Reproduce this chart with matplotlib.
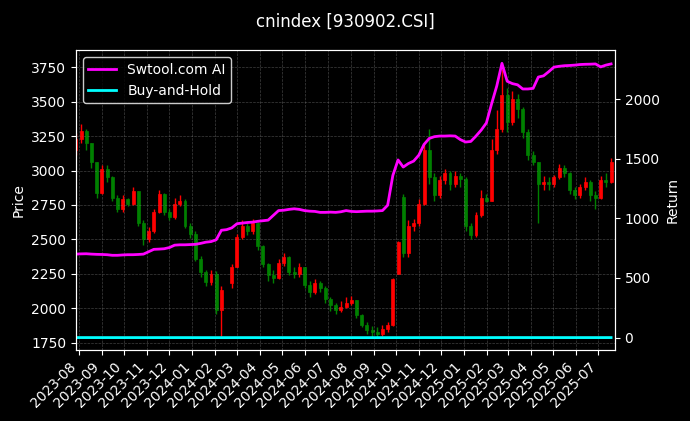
import numpy as np
import pandas as pd
import matplotlib
matplotlib.use("Agg")
import matplotlib.pyplot as plt
import matplotlib.dates as mdates

plt.style.use("dark_background")

# weekly bars (NaN = market closed)
dates = pd.date_range("2023-07-28", periods=104, freq="7D")
nan = np.nan
opens = [3150, 3230, 3290, 3200, 3060, 2840, 3010, 2950, 2800, 2720,
         2790, 2760, 2850, 2620, 2500, 2560, 2700, 2830, 2700, 2660,
         2760, 2780, 2600, 2540, 2360, 2260, 2190, 2250, 1990, nan,
         2180, 2300, 2520, 2600, 2560, 2620, 2450, 2320, 2240, 2220,
         2330, 2370, 2260, 2250, 2300, 2170, 2120, 2180, 2150, 2070,
         2020, 1990, 2010, 2040, 2060, 1950, 1880, 1840, 1830, 1810,
         1850, 1880, 2250, 2810, 2400, 2600, 2620, 2760, 3150, 2950,
         2820, 2930, 2980, 2900, 2960, 2940, 2600, 2530, 2680, 2800,
         2780, 3150, 3300, 3550, 3350, 3520, 3450, 3280, 3110, 3060,
         2900, 2920, 2900, 2950, 3020, 2980, 2860, 2820, 2880, 2920,
         2820, 2800, 2930, 2920]
highs = [3270, 3340, 3300, 3200, 3060, 3040, 3040, 2960, 2820, 2820,
         2800, 2880, 2850, 2640, 2590, 2720, 2860, 2840, 2720, 2800,
         2820, 2790, 2620, 2560, 2380, 2280, 2280, 2270, 2160, nan,
         2320, 2540, 2640, 2620, 2650, 2630, 2460, 2330, 2280, 2360,
         2400, 2380, 2300, 2330, 2300, 2200, 2210, 2200, 2160, 2080,
         2040, 2050, 2080, 2090, 2060, 1960, 1900, 1870, 1860, 1880,
         1900, 2220, 2490, 2830, 2640, 2650, 2790, 3200, 3300, 2980,
         2960, 3010, 3000, 3000, 2980, 2950, 2620, 2700, 2860, 2830,
         3230, 3440, 3740, 3600, 3580, 3560, 3460, 3300, 3140, 3060,
         2960, 2950, 2970, 3050, 3040, 2990, 2880, 2900, 2950, 2930,
         2850, 2960, 2980, 3090]
lows = [3110, 3200, 3150, 3020, 2800, 2830, 2920, 2780, 2700, 2700,
        2740, 2750, 2600, 2460, 2480, 2550, 2690, 2680, 2640, 2650,
        2740, 2580, 2510, 2340, 2230, 2160, 2170, 1960, 1800, nan,
        2150, 2300, 2500, 2530, 2540, 2420, 2300, 2200, 2180, 2210,
        2310, 2240, 2220, 2230, 2150, 2080, 2100, 2120, 2040, 1980,
        1960, 1970, 2000, 2020, 1930, 1860, 1810, 1790, 1790, 1800,
        1830, 1870, 2250, 2370, 2370, 2560, 2600, 2750, 2900, 2780,
        2800, 2900, 2860, 2880, 2880, 2560, 2500, 2520, 2660, 2770,
        2780, 3120, 3280, 3280, 3330, 3380, 3240, 3080, 3040, 2620,
        2860, 2860, 2880, 2940, 2950, 2830, 2790, 2800, 2860, 2780,
        2720, 2790, 2880, 2910]
closes = [3230, 3290, 3200, 3060, 2840, 3010, 2950, 2800, 2720, 2790,
          2760, 2850, 2620, 2500, 2560, 2700, 2830, 2700, 2660, 2760,
          2780, 2600, 2540, 2360, 2260, 2190, 2250, 1990, 2130, nan,
          2300, 2520, 2600, 2560, 2620, 2450, 2320, 2240, 2220, 2330,
          2370, 2260, 2250, 2300, 2170, 2120, 2180, 2150, 2070, 2020,
          1990, 2010, 2040, 2060, 1950, 1880, 1840, 1830, 1810, 1850,
          1880, 2210, 2480, 2400, 2600, 2620, 2760, 3150, 2950, 2820,
          2930, 2980, 2900, 2960, 2940, 2600, 2530, 2680, 2800, 2780,
          3150, 3300, 3550, 3350, 3520, 3450, 3280, 3110, 3060, 2900,
          2920, 2900, 2950, 3020, 2980, 2860, 2820, 2880, 2920, 2820,
          2800, 2930, 2920, 3060]
ai_return = [700, 702, 703, 700, 698, 697, 695, 690, 690, 693,
             695, 695, 697, 700, 720, 740, 742, 745, 755, 775,
             778, 778, 780, 782, 790, 800, 805, 820, 900, 905,
             920, 955, 960, 965, 968, 975, 980, 985, 1025, 1065,
             1068, 1075, 1080, 1075, 1065, 1060, 1058, 1050, 1050, 1052,
             1050, 1055, 1065, 1058, 1056, 1058, 1060, 1060, 1062, 1065,
             1110, 1360, 1490, 1430, 1460, 1480, 1530, 1620, 1670, 1685,
             1690, 1690, 1692, 1690, 1660, 1640, 1645, 1690, 1740, 1800,
             1960, 2110, 2300, 2150, 2130, 2120, 2085, 2085, 2090, 2185,
             2195, 2230, 2268, 2275, 2280, 2282, 2285, 2290, 2292, 2293,
             2295, 2270, 2285, 2295]

df = pd.DataFrame({"open": opens, "high": highs, "low": lows, "close": closes}, index=dates)
bh_return = df["close"].ffill() / df["close"].iloc[0] - 1

fig = plt.figure(figsize=(6.9, 4.21), dpi=100)
ax = fig.add_axes([0.110, 0.169, 0.781, 0.712])

up = df["close"] >= df["open"]
colors = np.where(up, "#ff0000", "#008000")
ax.vlines(df.index, df["low"], df["high"], colors=colors, linewidth=1)
ax.bar(df.index, (df["close"] - df["open"]).abs(), bottom=df[["open", "close"]].min(axis=1),
       width=4, color=colors, edgecolor=colors, linewidth=0.5)

ax.set_ylabel("Price")
ax.set_ylim(1697, 3876)
ax.set_xlim(pd.Timestamp("2023-07-28"), pd.Timestamp("2025-07-23"))
ax.xaxis.set_major_locator(mdates.MonthLocator())
ax.xaxis.set_major_formatter(mdates.DateFormatter("%Y-%m"))
plt.setp(ax.get_xticklabels(), rotation=45, ha="right")
ax.grid(True, linestyle="--", linewidth=0.5, color="gray", alpha=0.5)

ax2 = ax.twinx()
ax2.plot(df.index, ai_return, color="#ff00ff", linewidth=2, label="Swtool.com AI")
ax2.plot(df.index, bh_return, color="#00ffff", linewidth=2, label="Buy-and-Hold")
ax2.set_ylim(-103, 2411)
ax2.set_ylabel("Return")
ax2.legend(loc="upper left", facecolor="black", edgecolor="white")

fig.suptitle("cnindex [930902.CSI]", y=0.97)
fig.savefig("out.png", dpi=100)
